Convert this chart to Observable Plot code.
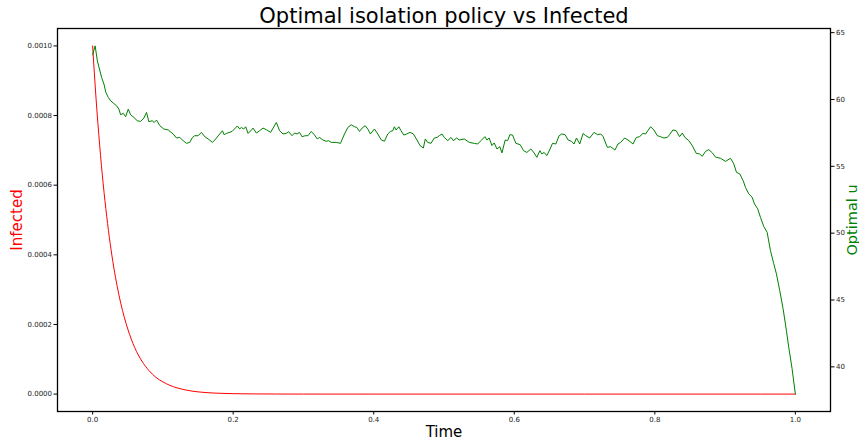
<!DOCTYPE html>
<html>
<head>
<meta charset="utf-8">
<script src="https://cdn.jsdelivr.net/npm/d3@7"></script>
<script src="https://cdn.jsdelivr.net/npm/@observablehq/plot@0.6"></script>
<style>
  html, body { margin: 0; padding: 0; background: #fff; }
  #chart { width: 859px; height: 442px; }
</style>
</head>
<body>
<div id="chart"></div>
<script>
// ---- data ----
const redTime = [0, 0.0025, 0.005, 0.0075, 0.01, 0.0125, 0.015, 0.02, 0.025, 0.03, 0.035, 0.04, 0.045, 0.05, 0.06, 0.07, 0.08, 0.09, 0.10, 0.11, 0.12, 0.14, 0.16, 0.18, 0.20, 0.23, 0.26, 0.30, 0.4, 0.5, 0.6, 0.7, 0.8, 0.9, 1.0];
const infected = [0.001, 0.00092, 0.000845, 0.000777, 0.000715, 0.000657, 0.000604, 0.000511, 0.000432, 0.000365, 0.000309, 0.000261, 0.000221, 0.000187, 0.000133, 0.000095, 0.000068, 0.000048, 0.000035, 0.000025, 0.000018, 0.000009, 0.0000046, 0.0000024, 0.0000012, 0.0000005, 0.0000002, 0.00000005, 0, 0, 0, 0, 0, 0, 0];

const greenTime = [0, 0.0036, 0.0067, 0.0104, 0.0128, 0.0161, 0.0189, 0.0223, 0.0256, 0.0294, 0.0341, 0.0374, 0.0398, 0.0436, 0.0469, 0.0507, 0.054, 0.0587, 0.0635, 0.0682, 0.0729, 0.0767, 0.08, 0.0848, 0.0876, 0.0909, 0.0956, 0.1013, 0.1075, 0.1146, 0.1193, 0.124, 0.1288, 0.1335, 0.1382, 0.142, 0.1453, 0.1501, 0.1548, 0.1595, 0.1643, 0.1705, 0.1751, 0.1808, 0.1847, 0.1871, 0.1903, 0.1984, 0.206, 0.2092, 0.2116, 0.2149, 0.2178, 0.2212, 0.2249, 0.2283, 0.233, 0.2376, 0.2425, 0.2472, 0.2533, 0.2614, 0.2661, 0.2709, 0.2756, 0.2788, 0.2837, 0.2874, 0.2908, 0.2945, 0.2979, 0.3026, 0.3064, 0.3111, 0.3158, 0.3196, 0.3229, 0.3277, 0.3324, 0.3357, 0.3395, 0.3466, 0.3527, 0.3584, 0.3632, 0.3679, 0.3726, 0.376, 0.3797, 0.3835, 0.3878, 0.3916, 0.3953, 0.401, 0.4058, 0.4105, 0.4152, 0.42, 0.4237, 0.4271, 0.4294, 0.4318, 0.4357, 0.4389, 0.4428, 0.447, 0.4517, 0.4564, 0.4616, 0.4659, 0.4706, 0.4734, 0.4768, 0.4815, 0.4862, 0.4901, 0.4933, 0.4972, 0.5004, 0.5053, 0.5099, 0.5132, 0.518, 0.5217, 0.5288, 0.5359, 0.543, 0.5479, 0.5526, 0.5582, 0.5611, 0.5643, 0.5682, 0.5714, 0.5753, 0.5795, 0.5824, 0.5871, 0.5905, 0.5938, 0.5976, 0.6023, 0.6084, 0.6132, 0.6179, 0.6236, 0.6283, 0.6321, 0.6364, 0.6392, 0.6425, 0.6463, 0.651, 0.6544, 0.6591, 0.6638, 0.6676, 0.6723, 0.6766, 0.6814, 0.6851, 0.6885, 0.6932, 0.6979, 0.7017, 0.7074, 0.7135, 0.7183, 0.723, 0.7263, 0.7325, 0.7372, 0.7433, 0.7476, 0.7514, 0.7571, 0.7632, 0.7689, 0.7737, 0.7784, 0.7831, 0.7869, 0.794, 0.7987, 0.8036, 0.8082, 0.8129, 0.8178, 0.821, 0.8257, 0.8305, 0.8352, 0.8391, 0.8428, 0.8484, 0.8533, 0.859, 0.8636, 0.8675, 0.8722, 0.8768, 0.8817, 0.8864, 0.8935, 0.9006, 0.9077, 0.9124, 0.9162, 0.9209, 0.9257, 0.929, 0.9337, 0.9385, 0.9418, 0.9464, 0.9503, 0.955, 0.9598, 0.9645, 0.9692, 0.973, 0.9777, 0.9825, 0.9872, 0.9905, 0.9953, 1.0];
const optimalU = [63.34, 64.01, 62.89, 62.14, 61.64, 61.15, 60.52, 60.15, 59.9, 59.73, 59.53, 59.28, 58.86, 58.96, 58.71, 59.28, 58.86, 58.66, 58.41, 58.36, 58.61, 59.03, 58.34, 58.41, 58.28, 58.46, 58.04, 57.79, 57.72, 57.42, 57.12, 57.16, 56.92, 56.72, 56.79, 57.16, 57.29, 57.29, 57.54, 57.22, 57.05, 56.79, 57.05, 57.42, 57.66, 57.37, 57.46, 57.61, 58.02, 57.79, 57.91, 57.79, 57.96, 57.46, 57.66, 57.86, 57.49, 57.66, 57.86, 57.74, 57.54, 58.28, 57.66, 57.42, 57.46, 57.59, 57.29, 57.49, 57.42, 57.54, 57.22, 57.29, 57.29, 57.61, 57.34, 57.05, 57.16, 56.97, 56.87, 56.92, 56.79, 56.79, 56.72, 57.42, 57.91, 58.11, 57.96, 57.91, 57.61, 57.86, 58.04, 57.79, 57.42, 57.79, 57.42, 56.99, 56.87, 57.42, 57.61, 57.66, 57.96, 57.72, 57.96, 57.66, 57.34, 57.42, 57.54, 57.42, 56.97, 56.55, 56.37, 57.05, 56.79, 56.72, 57.12, 57.16, 57.29, 57.42, 57.16, 56.92, 57.16, 56.92, 57.12, 56.97, 57.05, 56.79, 56.72, 56.67, 56.92, 57.22, 56.97, 57.12, 56.55, 56.75, 56.3, 56.47, 56.0, 56.97, 56.92, 57.37, 57.34, 56.72, 56.62, 56.17, 56.04, 56.3, 56.0, 55.67, 56.17, 55.93, 56.04, 55.8, 56.3, 56.72, 56.67, 57.29, 57.42, 57.37, 56.97, 56.87, 56.67, 57.12, 56.67, 57.46, 57.29, 57.12, 57.54, 57.37, 57.42, 57.24, 56.42, 56.47, 56.22, 56.67, 56.79, 57.12, 56.92, 56.67, 57.16, 57.22, 57.46, 57.42, 57.96, 57.72, 57.29, 57.22, 57.12, 57.16, 57.37, 57.72, 57.66, 57.22, 57.49, 57.16, 56.92, 56.55, 55.97, 55.93, 55.75, 56.12, 56.25, 56.02, 55.69, 55.6, 55.37, 55.6, 55.18, 54.55, 54.43, 53.93, 53.43, 52.94, 52.69, 52.19, 51.82, 51.19, 50.5, 50.07, 48.71, 47.72, 46.97, 45.72, 44.36, 42.74, 41.49, 39.88, 37.96];

const xTicks = [0, 0.2, 0.4, 0.6, 0.8, 1.0];
const leftTicks = [0, 0.0002, 0.0004, 0.0006, 0.0008, 0.0010];
const rightTicks = [40, 45, 50, 55, 60, 65];

const titleText = "Optimal isolation policy vs Infected";
const xLabel = "Time";
const leftLabel = "Infected";
const rightLabel = "Optimal u";

// ---- scales ----
const yDomain = [-0.00005, 0.00105];
const uDomain = [36.66, 65.31];
const uToY = u => yDomain[0] + (u - uDomain[0]) / (uDomain[1] - uDomain[0]) * (yDomain[1] - yDomain[0]);
const yToU = y => uDomain[0] + (y - yDomain[0]) / (yDomain[1] - yDomain[0]) * (uDomain[1] - uDomain[0]);

const redData = redTime.map((t, i) => ({t, v: infected[i]}));
const greenData = greenTime.map((t, i) => ({t, u: optimalU[i]}));

const font = "'DejaVu Sans', sans-serif";

const chart = Plot.plot({
  width: 859,
  height: 442,
  marginLeft: 57,
  marginRight: 29,
  marginTop: 28,
  marginBottom: 31,
  style: {fontFamily: font, fontSize: "7px", background: "#fff", color: "#000"},
  x: {domain: [-0.05, 1.05], axis: null},
  y: {domain: yDomain, axis: null},
  marks: [
    Plot.line(redData, {x: "t", y: "v", stroke: "#ff0000", strokeWidth: 1, curve: "monotone-x"}),
    Plot.line(greenData, {x: "t", y: d => uToY(d.u), stroke: "#008000", strokeWidth: 1}),
    Plot.frame({stroke: "#000", strokeWidth: 1.3}),
    Plot.axisX(xTicks, {anchor: "bottom", tickFormat: d => d.toFixed(1), tickSize: 3.5, tickPadding: 2, fontSize: 7, label: null, stroke: "#000", fill: "#222"}),
    Plot.axisY(leftTicks, {anchor: "left", tickFormat: d => d.toFixed(4), tickSize: 3.5, tickPadding: 2, fontSize: 7, label: null, stroke: "#000", fill: "#222"}),
    Plot.axisY(rightTicks.map(uToY), {anchor: "right", tickFormat: d => String(Math.round(yToU(d))), tickSize: 3.5, tickPadding: 2, fontSize: 7, label: null, stroke: "#000", fill: "#222"}),
    Plot.text([titleText], {frameAnchor: "top", dy: -12, lineAnchor: "middle", textAnchor: "middle", fontSize: 21, fill: "#000"}),
    Plot.text([xLabel], {frameAnchor: "bottom", dy: 21, lineAnchor: "middle", textAnchor: "middle", fontSize: 15, fill: "#000"}),
    Plot.text([leftLabel], {frameAnchor: "left", dx: -40, rotate: -90, lineAnchor: "middle", textAnchor: "middle", fontSize: 15, fill: "#ff0000"}),
    Plot.text([rightLabel], {frameAnchor: "right", dx: 22, rotate: -90, lineAnchor: "middle", textAnchor: "middle", fontSize: 14.5, fill: "#008000"})
  ]
});
document.getElementById("chart").appendChild(chart);
</script>
</body>
</html>
